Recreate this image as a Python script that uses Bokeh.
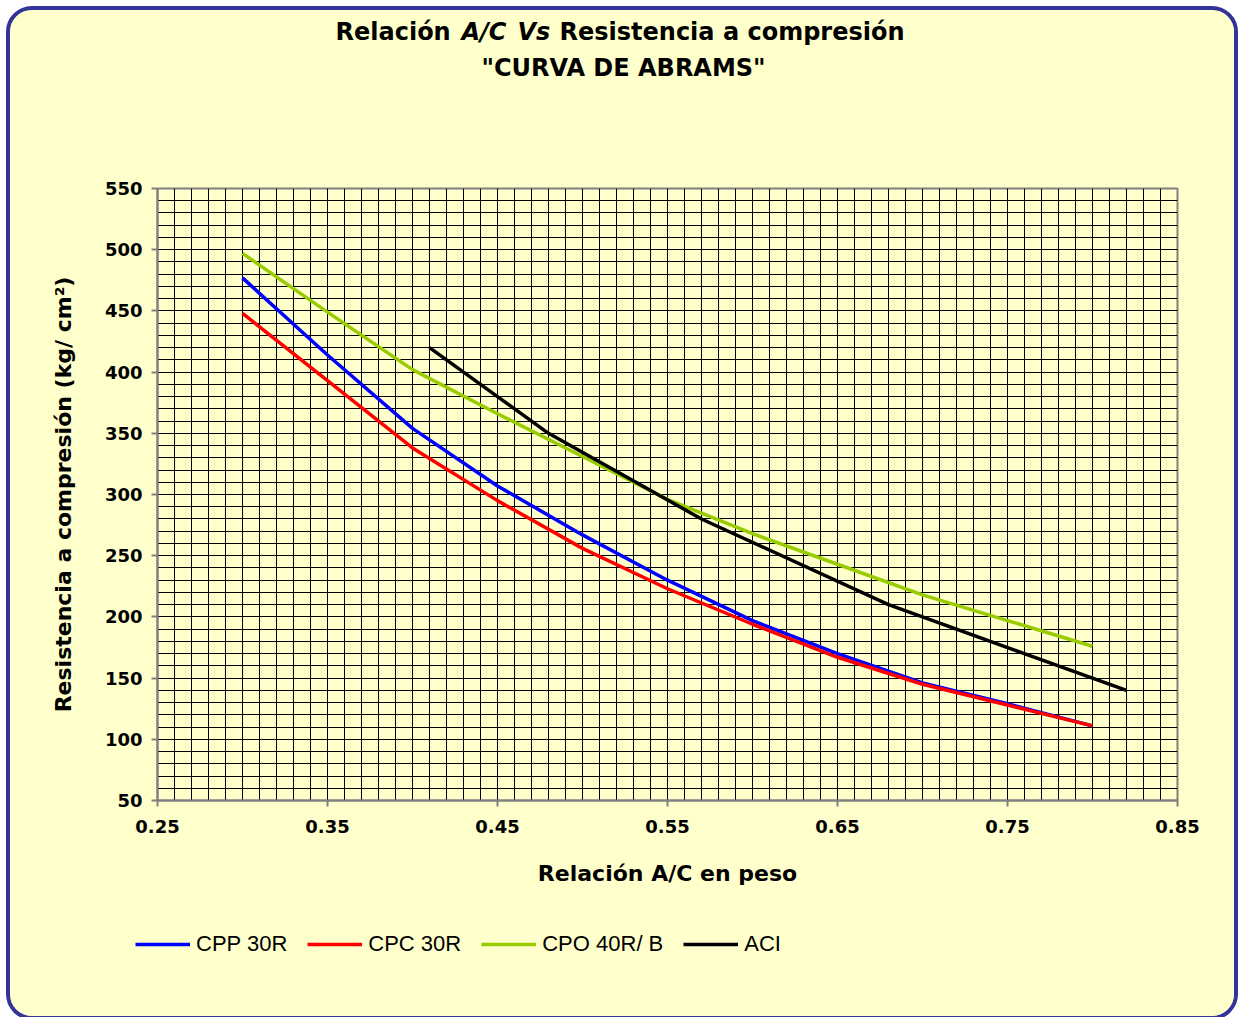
from bokeh.plotting import figure
from bokeh.layouts import column, row
from bokeh.models import (FixedTicker, Label, Legend, LegendItem,
                          NumeralTickFormatter)
from bokeh.embed import file_html
from bokeh.resources import INLINE

# Water/cement ratio (by weight) and compressive strength (kg/cm2)
wc = [0.30, 0.35, 0.40, 0.45, 0.50, 0.55, 0.60, 0.65, 0.70, 0.75, 0.80]
cpp_30r = [477, 414, 354, 307, 267, 230, 197, 170, 146, 129, 111]
cpc_30r = [448, 393, 338, 295, 256, 223, 194, 167, 145, 128, 111]
cpo_40rb = [497, 449, 402, 366, 331, 296, 268, 243, 218, 197, 176]
aci_wc = [0.41, 0.48, 0.57, 0.68, 0.82]
aci = [420, 350, 280, 210, 140]

series_names = ["CPP 30R", "CPC 30R", "CPO 40R/ B", "ACI"]
series_colors = ["#0000FF", "#FF0000", "#99CC00", "#000000"]

x_major = [0.25, 0.35, 0.45, 0.55, 0.65, 0.75, 0.85]
x_minor = [round(0.25 + 0.01 * i, 2) for i in range(61)]
y_major = list(range(50, 551, 50))
y_minor = list(range(50, 551, 10))

BOLD = "DejaVu Sans"
REG = "Liberation Sans"
BG = "#FFFFCC"
W = 1224
NAN = float("nan")
LW = 3.5


def blank_panel(height):
    """A figure whose frame fills the whole canvas, used for text bands."""
    f = figure(width=W, height=height, x_range=(0, W), y_range=(height, 0),
               output_backend="svg", toolbar_location=None,
               x_axis_location=None, y_axis_location=None,
               min_border=0, background_fill_color=BG, border_fill_color=BG,
               outline_line_color=None)
    f.grid.visible = False
    f.title.visible = False
    return f


# ---- title band ----
head = blank_panel(168)
title_parts = [("Relación", 325, "bold"), ("A/C", 451, "bold italic"),
               ("Vs", 507, "bold italic"), ("Resistencia a compresión", 549, "bold")]
for txt, xs, style in title_parts:
    head.add_layout(Label(x=xs, y=21, text=txt, text_font=BOLD, text_font_style=style,
                          text_font_size="24px", text_baseline="middle",
                          text_align="left", text_color="black"))
head.add_layout(Label(x=613, y=57, text='"CURVA DE ABRAMS"', text_font=BOLD,
                      text_font_style="bold", text_font_size="24px",
                      text_baseline="middle", text_align="center",
                      text_color="black"))

# ---- main chart ----
p = figure(width=W, height=722, x_range=(0.25, 0.85), y_range=(50, 550),
           output_backend="svg", toolbar_location=None,
           min_border_left=147, min_border_right=57,
           min_border_top=10, min_border_bottom=100,
           background_fill_color=BG, border_fill_color=BG)
p.title.visible = False
p.outline_line_color = "#808080"
p.outline_line_width = 2

p.xaxis.ticker = FixedTicker(ticks=x_major, minor_ticks=x_minor)
p.yaxis.ticker = FixedTicker(ticks=y_major, minor_ticks=y_minor)
p.xaxis.formatter = NumeralTickFormatter(format="0.00")
for ax in (p.xaxis, p.yaxis):
    ax.axis_line_color = "#808080"
    ax.axis_line_width = 2
    ax.major_tick_line_color = "#808080"
    ax.major_tick_line_width = 2
    ax.major_tick_in = 0
    ax.major_tick_out = 6
    ax.minor_tick_line_color = None
    ax.major_label_text_font = BOLD
    ax.major_label_text_font_style = "bold"
    ax.major_label_text_font_size = "18px"
    ax.major_label_text_color = "black"
    ax.axis_label_text_font = BOLD
    ax.axis_label_text_font_style = "bold"
    ax.axis_label_text_font_size = "22px"
    ax.axis_label_text_color = "black"
p.xaxis.major_label_standoff = 13
p.yaxis.major_label_standoff = 9
p.xaxis.axis_label = "Relación A/C en peso"
p.yaxis.axis_label = "Resistencia a compresión (kg/ cm²)"
p.xaxis.axis_label_standoff = 25
p.yaxis.axis_label_standoff = 26

# dense graph-paper grid
for g in (p.xgrid, p.ygrid):
    g.grid_line_color = "black"
    g.grid_line_width = 1
    g.minor_grid_line_color = "black"
    g.minor_grid_line_width = 1

for (xs, ys), color in zip([(wc, cpp_30r), (wc, cpc_30r), (wc, cpo_40rb), (aci_wc, aci)],
                           series_colors):
    p.line(xs, ys, line_color=color, line_width=LW, line_join="round")

# ---- legend band ----
foot = blank_panel(116)
items = []
for name, color in zip(series_names, series_colors):
    key = foot.line(x=[NAN], y=[NAN], line_color=color, line_width=LW)
    items.append(LegendItem(label=name, renderers=[key]))
foot.add_layout(Legend(items=items, orientation="horizontal", location=(125, 59),
                       glyph_width=55, glyph_height=20, label_standoff=6, spacing=20,
                       padding=0, margin=0,
                       label_text_font=REG, label_text_font_size="22px",
                       label_text_color="black",
                       background_fill_alpha=0, border_line_alpha=0))

page = column(row(head), p, row(foot), spacing=0,
              styles={"border": "4px solid #333399", "border-radius": "26px",
                      "overflow": "hidden", "margin": "6px 0 0 6px",
                      "background-color": BG})

open("out.html", "w").write(file_html(page, INLINE))
